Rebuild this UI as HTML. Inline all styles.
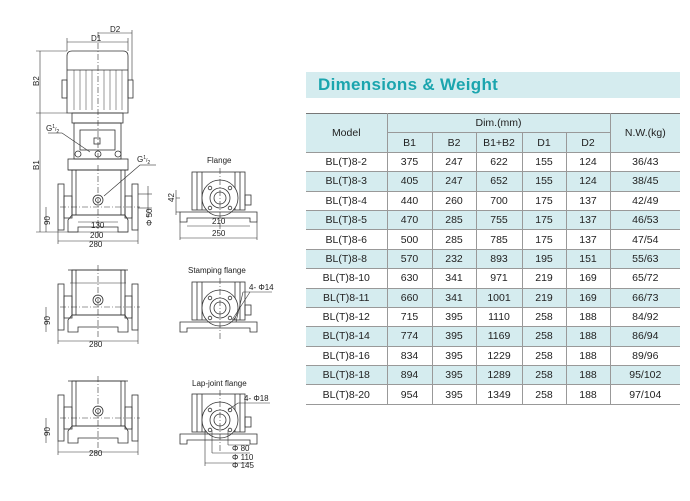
<!DOCTYPE html>
<html><head><meta charset="utf-8"><style>
body{margin:0;width:690px;height:501px;background:#fff;position:relative;overflow:hidden;font-family:"Liberation Sans",sans-serif}
#ban{position:absolute;left:306px;top:72px;width:374px;height:26px;background:#d5ecef}
#ban span{position:absolute;left:12px;top:3px;font-size:17px;font-weight:bold;color:#1ba5ae;letter-spacing:0.3px}
table{position:absolute;left:306px;top:113px;width:374px;border-collapse:collapse;font-size:10.5px;color:#222;table-layout:fixed}
td{text-align:center;padding:0;height:18.4px;border-left:1px solid #999;border-bottom:1px solid #999}
td:first-child{border-left:none}
tr.h td{background:#d5ecef}
tr.b td{background:#d5ecef}
table{border-top:1.5px solid #777;border-bottom:1.5px solid #777}
svg{position:absolute;left:0;top:0}
</style></head><body>
<svg width="300" height="501" viewBox="0 0 300 501" font-family="Liberation Sans, sans-serif" font-size="8" fill="none" stroke="#333" stroke-width="0.8">
<defs>
<g id="low">
 <line x1="68" y1="170" x2="128" y2="170"/>
 <rect x="72" y="170" width="53" height="45"/>
 <line x1="76" y1="170" x2="76" y2="215"/><line x1="121" y1="170" x2="121" y2="215"/>
 <rect x="58" y="184" width="6" height="46"/><rect x="64" y="196" width="8" height="22"/>
 <rect x="132" y="184" width="6" height="46"/><rect x="125" y="196" width="7" height="22"/>
 <path d="M72 215 H125 L128 220 V232 H118 V227 H78 V232 H68 V220 Z"/>
 <circle cx="98" cy="200" r="5"/><circle cx="98" cy="200" r="2.5"/>
 <line x1="98" y1="165" x2="98" y2="238" stroke-dasharray="6 2 1 2" stroke-width="0.6"/>
 <line x1="60" y1="207" x2="140" y2="207" stroke-dasharray="6 2 1 2" stroke-width="0.6"/>
 <line x1="58" y1="241" x2="138" y2="241" stroke-width="0.6"/>
 <line x1="58" y1="230" x2="58" y2="244" stroke-width="0.6"/><line x1="138" y1="230" x2="138" y2="244" stroke-width="0.6"/>
 <line x1="46" y1="207" x2="46" y2="232" stroke-width="0.6"/>
</g>
<g id="side">
 <rect x="192" y="172" width="53" height="38"/>
 <line x1="197" y1="172" x2="197" y2="210"/><line x1="240" y1="172" x2="240" y2="210"/>
 <line x1="202" y1="172" x2="202" y2="210"/><line x1="235" y1="172" x2="235" y2="210"/>
 <circle cx="220" cy="198" r="18" fill="#fff"/><circle cx="220" cy="198" r="10"/><circle cx="220" cy="198" r="6"/>
 <circle cx="210" cy="188" r="1.8"/><circle cx="230" cy="188" r="1.8"/><circle cx="210" cy="208" r="1.8"/><circle cx="230" cy="208" r="1.8"/>
 <rect x="245" y="195" width="6" height="10"/>
 <path d="M180 212 H257 V222 H250 V218 H187 V222 H180 Z"/>
 <line x1="220" y1="168" x2="220" y2="230" stroke-dasharray="6 2 1 2" stroke-width="0.6"/>
</g>
</defs>
<!-- main pump upper -->
<path d="M67 56 Q67 51 72 51 H123 Q128 51 128 56 V113 H67 Z"/>
<line x1="67" y1="70" x2="128" y2="70"/>
<g stroke-width="0.5"><line x1="74" y1="70" x2="74" y2="110"/><line x1="80" y1="70" x2="80" y2="110"/><line x1="86" y1="70" x2="86" y2="110"/><line x1="92" y1="70" x2="92" y2="110"/><line x1="104" y1="70" x2="104" y2="110"/><line x1="110" y1="70" x2="110" y2="110"/><line x1="116" y1="70" x2="116" y2="110"/><line x1="122" y1="70" x2="122" y2="110"/></g>
<rect x="62" y="80" width="5" height="18"/><rect x="128" y="80" width="5" height="18"/>
<rect x="72" y="113" width="51" height="10"/>
<rect x="74" y="123" width="47" height="36"/><rect x="80" y="130" width="35" height="20"/>
<rect x="94" y="138" width="6" height="6"/>
<rect x="68" y="159" width="60" height="11"/>
<circle cx="78" cy="154" r="3"/><circle cx="98" cy="154" r="3"/><circle cx="118" cy="154" r="3"/>
<line x1="98" y1="32" x2="98" y2="160" stroke-dasharray="6 2 1 2" stroke-width="0.6"/>
<use href="#low"/>
<g stroke-width="0.6">
<line x1="67" y1="42" x2="128" y2="42"/><line x1="67" y1="38" x2="67" y2="51"/><line x1="128" y1="38" x2="128" y2="51"/>
<line x1="98" y1="33" x2="132" y2="33"/><line x1="132" y1="30" x2="132" y2="80"/>
<line x1="40" y1="51" x2="40" y2="232"/><line x1="36" y1="51" x2="67" y2="51"/><line x1="36" y1="113" x2="67" y2="113"/><line x1="36" y1="232" x2="68" y2="232"/>
<line x1="78" y1="222" x2="118" y2="222"/><line x1="68" y1="232" x2="128" y2="232"/>
<line x1="48" y1="133" x2="62" y2="133"/><line x1="62" y1="133" x2="90" y2="152"/>
<line x1="156" y1="165" x2="140" y2="165"/><line x1="140" y1="165" x2="104" y2="196"/>
<line x1="138" y1="194" x2="152" y2="194"/><line x1="138" y1="208" x2="152" y2="208"/><line x1="148" y1="186" x2="148" y2="218"/>
</g>
<g fill="#222" stroke="none">
<text x="91" y="41">D1</text><text x="110" y="32">D2</text>
<text transform="translate(39,86) rotate(-90)">B2</text>
<text transform="translate(39,170) rotate(-90)">B1</text>
<text transform="translate(50,225) rotate(-90)">90</text>
<text x="46" y="131">G<tspan font-size="5" dy="-3">1</tspan><tspan font-size="5" dy="3">/</tspan><tspan font-size="5" dy="2">2</tspan></text>
<text x="137" y="162">G<tspan font-size="5" dy="-3">1</tspan><tspan font-size="5" dy="3">/</tspan><tspan font-size="5" dy="2">2</tspan></text>
<text x="91" y="228">130</text><text x="90" y="238">200</text><text x="89" y="247">280</text>
<text transform="translate(152,226) rotate(-90)">Φ 50</text>
</g>
<use href="#side"/>
<g stroke-width="0.6"><line x1="180" y1="222" x2="180" y2="240"/><line x1="257" y1="222" x2="257" y2="240"/><line x1="180" y1="238" x2="257" y2="238"/>
<line x1="187" y1="226" x2="250" y2="226"/><line x1="176" y1="198" x2="180" y2="198"/><line x1="176" y1="212" x2="180" y2="212"/><line x1="176" y1="190" x2="176" y2="215"/></g>
<g fill="#222" stroke="none">
<text x="207" y="163">Flange</text>
<text x="212" y="224">210</text><text x="212" y="236">250</text>
<text transform="translate(174,202) rotate(-90)">42</text>
</g>
<!-- row 2 -->
<g transform="translate(0,100)"><use href="#low"/><line x1="70" y1="183" x2="126" y2="183" stroke-width="0.6"/><line x1="72" y1="183" x2="72" y2="170"/><line x1="125" y1="183" x2="125" y2="170"/></g>
<g fill="#222" stroke="none"><text x="89" y="347">280</text><text transform="translate(50,325) rotate(-90)">90</text></g>
<g transform="translate(0,110)"><use href="#side"/></g>
<g stroke-width="0.6"><line x1="243" y1="292" x2="272" y2="292"/><line x1="243" y1="292" x2="236" y2="322"/><line x1="250" y1="292" x2="232" y2="320"/></g>
<g fill="#222" stroke="none"><text x="188" y="273">Stamping flange</text><text x="249" y="290">4- Φ14</text></g>
<!-- row 3 -->
<g transform="translate(0,211)"><use href="#low"/></g>
<g fill="#222" stroke="none"><text x="89" y="456">280</text><text transform="translate(50,436) rotate(-90)">90</text></g>
<g transform="translate(0,222)"><use href="#side"/></g>
<g stroke-width="0.6"><line x1="238" y1="403" x2="270" y2="403"/><line x1="238" y1="403" x2="228" y2="410"/>
<line x1="228" y1="445" x2="250" y2="445"/><line x1="212" y1="453" x2="250" y2="453"/><line x1="205" y1="463" x2="250" y2="463"/>
<line x1="228" y1="430" x2="228" y2="445"/><line x1="212" y1="430" x2="212" y2="453"/><line x1="205" y1="430" x2="205" y2="466"/></g>
<g fill="#222" stroke="none"><text x="192" y="386">Lap-joint flange</text><text x="244" y="401">4- Φ18</text>
<text x="232" y="451">Φ 80</text><text x="232" y="460">Φ 110</text><text x="232" y="468">Φ 145</text></g>
</svg>
<div id="ban"><span>Dimensions &amp; Weight</span></div>
<table>
<colgroup><col style="width:81px"><col style="width:45px"><col style="width:44px"><col style="width:46px"><col style="width:44px"><col style="width:44px"><col style="width:70px"></colgroup>
<tr class="h"><td rowspan="2">Model</td><td colspan="5">Dim.(mm)</td><td rowspan="2">N.W.(kg)</td></tr>
<tr class="h"><td style="border-left:1px solid #999">B1</td><td>B2</td><td>B1+B2</td><td>D1</td><td>D2</td></tr>
<tr><td>BL(T)8-2</td><td>375</td><td>247</td><td>622</td><td>155</td><td>124</td><td>36/43</td></tr>
<tr class="b"><td>BL(T)8-3</td><td>405</td><td>247</td><td>652</td><td>155</td><td>124</td><td>38/45</td></tr>
<tr><td>BL(T)8-4</td><td>440</td><td>260</td><td>700</td><td>175</td><td>137</td><td>42/49</td></tr>
<tr class="b"><td>BL(T)8-5</td><td>470</td><td>285</td><td>755</td><td>175</td><td>137</td><td>46/53</td></tr>
<tr><td>BL(T)8-6</td><td>500</td><td>285</td><td>785</td><td>175</td><td>137</td><td>47/54</td></tr>
<tr class="b"><td>BL(T)8-8</td><td>570</td><td>232</td><td>893</td><td>195</td><td>151</td><td>55/63</td></tr>
<tr><td>BL(T)8-10</td><td>630</td><td>341</td><td>971</td><td>219</td><td>169</td><td>65/72</td></tr>
<tr class="b"><td>BL(T)8-11</td><td>660</td><td>341</td><td>1001</td><td>219</td><td>169</td><td>66/73</td></tr>
<tr><td>BL(T)8-12</td><td>715</td><td>395</td><td>1110</td><td>258</td><td>188</td><td>84/92</td></tr>
<tr class="b"><td>BL(T)8-14</td><td>774</td><td>395</td><td>1169</td><td>258</td><td>188</td><td>86/94</td></tr>
<tr><td>BL(T)8-16</td><td>834</td><td>395</td><td>1229</td><td>258</td><td>188</td><td>89/96</td></tr>
<tr class="b"><td>BL(T)8-18</td><td>894</td><td>395</td><td>1289</td><td>258</td><td>188</td><td>95/102</td></tr>
<tr><td>BL(T)8-20</td><td>954</td><td>395</td><td>1349</td><td>258</td><td>188</td><td>97/104</td></tr>
</table>
</body></html>
